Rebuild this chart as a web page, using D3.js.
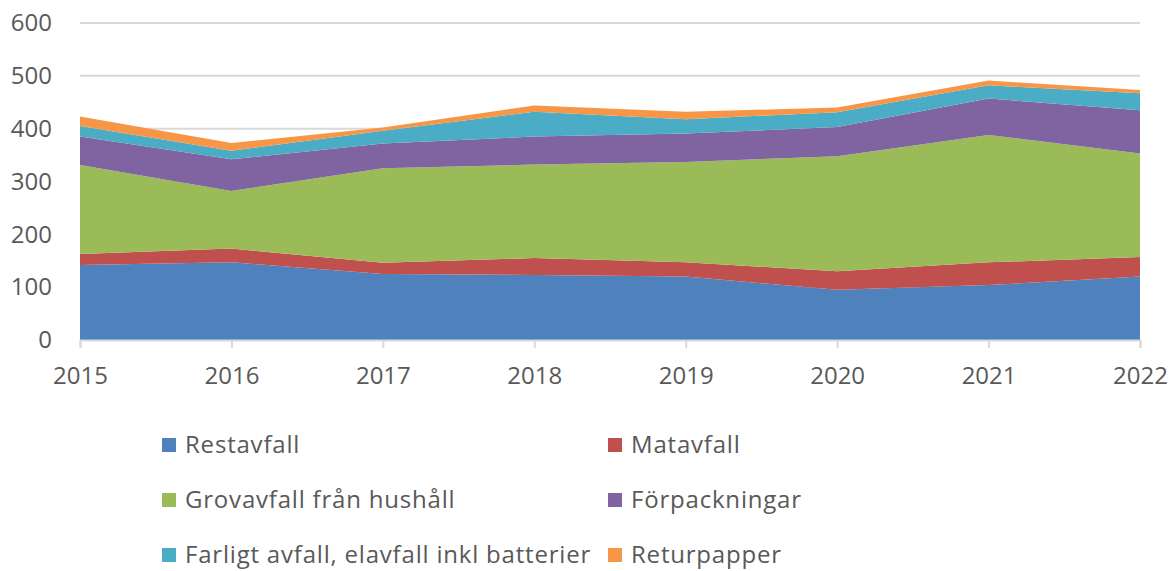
<!DOCTYPE html>
<html>
<head>
<meta charset="utf-8">
<script src="https://cdn.jsdelivr.net/npm/d3@7"></script>
<style>
  body { margin: 0; background: #fff; }
  text { font-family: "Open Sans", sans-serif; fill: #595959; }
</style>
</head>
<body>
<script>
// data
var years = [2015, 2016, 2017, 2018, 2019, 2020, 2021, 2022];
var restavfall    = [142, 147, 125, 123, 120, 95, 104, 120];
var matavfall     = [21, 26, 21, 32, 27, 35, 43, 37];
var grovavfall    = [168, 109, 179, 177, 190, 218, 241, 196];
var forpackningar = [54, 60, 47, 53, 54, 55, 69, 82];
var farligt       = [20, 16, 24, 47, 27, 28, 25, 32];
var returpapper   = [18, 15, 6, 12, 14, 9, 9, 6];
var seriesNames = ["Restavfall", "Matavfall", "Grovavfall från hushåll", "Förpackningar",
                   "Farligt avfall, elavfall inkl batterier", "Returpapper"];
var yTicks = [0, 100, 200, 300, 400, 500, 600];

var colors = ["#4f81bd", "#c0504d", "#9bbb59", "#8064a2", "#4bacc6", "#f79646"];
var allSeries = [restavfall, matavfall, grovavfall, forpackningar, farligt, returpapper];

var W = 1176, H = 571;
var margin = {top: 23, right: 36, bottom: 231, left: 80},
    width = W - margin.left - margin.right,
    height = H - margin.top - margin.bottom;

var svg = d3.select("body").append("svg")
    .attr("width", W)
    .attr("height", H);

var g = svg.append("g")
    .attr("transform", "translate(" + margin.left + "," + margin.top + ")");

// table for the stack
var table = years.map(function(y, i) {
  var row = {year: y};
  seriesNames.forEach(function(n, k) { row[n] = allSeries[k][i]; });
  return row;
});

var stacked = d3.stack().keys(seriesNames)(table);

var x = d3.scaleLinear().domain([2015, 2022]).range([0, width]);
var y = d3.scaleLinear().domain([0, 600]).range([height, 0]);

//gridlines
g.selectAll(".grid")
  .data(yTicks.slice(1))
  .enter().append("line")
    .attr("x1", 0).attr("x2", width)
    .attr("y1", function(d) { return y(d); })
    .attr("y2", function(d) { return y(d); })
    .attr("stroke", "#d9d9d9")
    .attr("stroke-width", 2);

//areas
var area = d3.area()
  .x(function(d) { return x(d.data.year); })
  .y0(function(d) { return y(d[0]); })
  .y1(function(d) { return y(d[1]); });

g.selectAll(".layer")
  .data(stacked)
  .enter().append("path")
    .attr("d", area)
    .attr("fill", function(d, i) { return colors[i]; });

//x axis
var xAxis = d3.axisBottom(x).tickValues(years).tickFormat(d3.format("d")).tickSize(8).tickPadding(19);
var gx = g.append("g")
  .attr("transform", "translate(0," + height + ")")
  .call(xAxis);
gx.select(".domain").attr("stroke", "#d9d9d9").attr("stroke-width", 2);
gx.selectAll(".tick line").attr("stroke", "#d9d9d9").attr("stroke-width", 2);
gx.selectAll("text").style("font-size", "24px").attr("fill", "#595959");

//y axis
var yAxis = d3.axisLeft(y).tickValues(yTicks).tickSize(0).tickPadding(28);
var gy = g.append("g").call(yAxis);
gy.select(".domain").remove();
gy.selectAll("text").style("font-size", "24px").attr("fill", "#595959");

//legend
var legX = [162, 608], legY = [445, 500, 555];
var leg = svg.selectAll(".leg")
  .data(seriesNames)
  .enter().append("g")
    .attr("transform", function(d, i) {
      return "translate(" + legX[i % 2] + "," + legY[Math.floor(i / 2)] + ")";
    });
leg.append("rect")
  .attr("x", 0).attr("y", -7)
  .attr("width", 14).attr("height", 14)
  .attr("fill", function(d, i) { return colors[i]; });
leg.append("text")
  .attr("x", 23).attr("y", 0)
  .attr("dy", "0.35em")
  .style("font-size", "24px")
  .style("letter-spacing", "0.8px")
  .text(function(d) { return d; });
</script>
</body>
</html>
